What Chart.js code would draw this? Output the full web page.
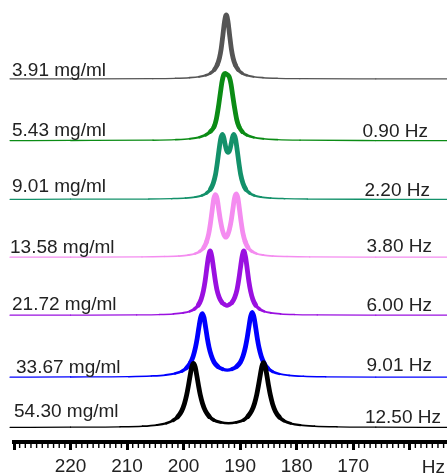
<!DOCTYPE html>
<html>
<head>
<meta charset="utf-8">
<script src="https://cdn.jsdelivr.net/npm/chart.js@4.4.1/dist/chart.umd.min.js"></script>
<style>
  html, body { margin: 0; padding: 0; background: #fff; }
  canvas { display: block; }
</style>
</head>
<body>
<canvas id="nmr" width="447" height="475"></canvas>
<script>
// traces listed top to bottom
var concentrations = ['3.91 mg/ml', '5.43 mg/ml', '9.01 mg/ml', '13.58 mg/ml', '21.72 mg/ml', '33.67 mg/ml', '54.30 mg/ml'];
var splittings = ['', '0.90 Hz', '2.20 Hz', '3.80 Hz', '6.00 Hz', '9.01 Hz', '12.50 Hz'];
var offsets = [56.67, 47.03, 37.86, 28.83, 19.77, 10.1, 2.27];   // baseline of each trace (a.u.)
var colors = ['#555555', '#0b8c15', '#13916a', '#f48cf0', '#9a10e0', '#0000ff', '#000000'];

var majorTicks = [160, 170, 180, 190, 200, 210, 220, 230];
var tickLabels = ['', '170', '180', '190', '200', '210', '220', ''];

// [Hz, intensity]
var c391 = [[230.7,0.02],[220,0.03],[205.45,0.05],[201.45,0.1],[198.95,0.2],[197.25,0.35],[196.05,0.58],[195.25,0.9],
    [194.55,1.45],[194.05,2.2],[193.65,3.3],[193.35,4.7],[193.05,6.8],[192.75,9.0],[192.45,10.0],[192.15,9.0],
    [191.85,6.8],[191.55,4.7],[191.25,3.3],[190.85,2.2],[190.35,1.45],[189.65,0.9],[188.85,0.58],[187.65,0.35],
    [185.95,0.2],[183.45,0.1],[179.45,0.05],[166,0.02],[153.4,0]];
var c543 = [[230.7,0.02],[220,0.04],[205.4,0.09],[201.4,0.17],[198.9,0.31],[197.2,0.55],[196.1,0.9],[195.3,1.4],
    [194.6,2.2],[194.2,3.4],[193.85,5.2],[193.5,7.4],[193.2,9.2],[192.9,10.3],[192.65,10.5],[192.4,10.4],
    [192.15,10.25],[191.9,9.9],[191.6,8.8],[191.3,7.0],[190.95,5.0],[190.6,3.3],[190.2,2.2],[189.6,1.4],
    [188.8,0.88],[187.6,0.52],[185.9,0.3],[183.4,0.17],[179.4,0.09],[166,0.03],[153.4,0.02]];
var c901 = [[230.7,0.02],[220,0.04],[206.15,0.07],[202.15,0.13],[199.65,0.22],[197.95,0.38],[196.75,0.62],[195.95,0.98],
    [195.25,1.6],[194.75,2.55],[194.35,3.9],[194.05,5.6],[193.75,7.6],[193.45,9.4],[193.15,10.15],[192.9,9.7],
    [192.65,8.6],[192.4,7.7],[192.125,7.35],[191.85,7.7],[191.6,8.6],[191.35,9.7],[191.1,10.15],[190.8,9.4],
    [190.5,7.6],[190.2,5.6],[189.9,3.9],[189.5,2.55],[189.0,1.6],[188.3,0.98],[187.5,0.62],[186.3,0.38],
    [184.6,0.22],[182.1,0.13],[178.1,0.07],[166,0.03],[153.4,0.02]];
var c1358 = [[230.7,0.02],[220,0.04],[207.35,0.06],[203.35,0.12],[200.85,0.2],[199.15,0.35],[197.95,0.58],[197.15,0.92],
    [196.45,1.5],[195.95,2.4],[195.55,3.7],[195.25,5.3],[194.95,7.3],[194.65,9.2],[194.35,9.8],[194.05,9.1],
    [193.75,7.3],[193.45,5.6],[193.15,4.3],[192.85,3.5],[192.525,3.15],[192.2,3.5],[191.9,4.3],[191.6,5.6],
    [191.3,7.4],[191.0,9.2],[190.7,9.9],[190.4,9.3],[190.1,7.4],[189.8,5.4],[189.5,3.75],[189.1,2.45],
    [188.6,1.52],[187.9,0.93],[187.1,0.58],[185.9,0.35],[184.2,0.2],[181.7,0.12],[177.7,0.06],[166,0.03],[153.4,0.02]];
var c2172 = [[230.7,0.02],[220,0.04],[208.3,0.07],[204.3,0.12],[201.8,0.22],[200.1,0.38],[198.9,0.62],[198.1,0.98],
    [197.4,1.6],[196.9,2.5],[196.5,3.8],[196.2,5.3],[195.9,7.3],[195.6,9.15],[195.3,10.05],[195.0,9.15],
    [194.7,7.35],[194.4,5.5],[194.1,4.0],[193.7,2.8],[193.2,2.0],[192.75,1.7],[192.325,1.5],[191.9,1.7],
    [191.45,2.0],[190.95,2.8],[190.55,4.0],[190.25,5.5],[189.95,7.35],[189.65,9.15],[189.35,10.05],[189.05,9.15],
    [188.75,7.3],[188.45,5.3],[188.15,3.8],[187.75,2.5],[187.25,1.6],[186.55,0.98],[185.75,0.62],[184.55,0.38],
    [182.85,0.22],[180.35,0.12],[176.35,0.07],[166,0.03],[153.4,0.02]];
var c3367 = [[230.7,0.02],[220,0.05],[209.7,0.1],[205.7,0.2],[203.2,0.35],[201.5,0.6],[200.3,0.95],[199.5,1.45],
    [198.8,2.25],[198.3,3.3],[197.9,4.65],[197.6,6.05],[197.3,7.75],[197.0,9.3],[196.7,9.95],[196.4,9.35],
    [196.1,7.8],[195.8,6.1],[195.5,4.7],[195.1,3.4],[194.6,2.35],[193.9,1.65],[193.1,1.27],[192.275,1.12],
    [191.45,1.27],[190.65,1.65],[189.95,2.35],[189.45,3.4],[189.05,4.75],[188.75,6.15],[188.45,7.85],[188.15,9.45],
    [187.85,10.15],[187.55,9.4],[187.25,7.8],[186.95,6.05],[186.65,4.6],[186.25,3.25],[185.75,2.2],[185.05,1.38],
    [184.25,0.88],[183.05,0.53],[181.35,0.3],[178.85,0.16],[174.85,0.08],[166,0.03],[153.4,0.02]];
var c5430 = [[230.7,0.02],[220,0.05],[211.25,0.1],[207.25,0.2],[204.75,0.38],[203.05,0.66],[201.85,1.1],[201.05,1.65],
    [200.35,2.55],[199.85,3.7],[199.45,5.1],[199.15,6.5],[198.85,8.05],[198.55,9.45],[198.25,10.0],[197.95,9.45],
    [197.65,8.05],[197.35,6.5],[197.05,5.1],[196.65,3.75],[196.15,2.6],[195.45,1.7],[194.65,1.15],[193.45,0.8],
    [192.05,0.65],[190.65,0.8],[189.4,1.15],[188.65,1.7],[187.95,2.6],[187.45,3.75],[187.05,5.15],[186.75,6.55],
    [186.45,8.1],[186.15,9.55],[185.85,10.1],[185.55,9.5],[185.25,8.05],[184.95,6.45],[184.65,5.05],[184.25,3.65],
    [183.75,2.5],[183.05,1.6],[182.25,1.05],[181.05,0.63],[179.35,0.36],[176.85,0.2],[172.85,0.1],[166,0.05],[153.4,0.02]];

var spectra = [c391, c543, c901, c1358, c2172, c3367, c5430];

// lines get heavy where the signal rises off the baseline
function segWidth(ctx) {
    var h = ctx.chart.data.datasets[ctx.datasetIndex].heights;
    var m = (h[ctx.p0DataIndex] + h[ctx.p1DataIndex]) / 2;
    return 1.2 + 3.6 * Math.min(1, m / 2);
}

// lower traces go first so they are painted on top
var datasets = [];
for (var i = spectra.length - 1; i >= 0; i--) {
    datasets.push({
        label: concentrations[i],
        data: spectra[i].map(function (p) { return { x: p[0], y: p[1] + offsets[i] }; }),
        heights: spectra[i].map(function (p) { return p[1]; }),
        borderColor: colors[i],
        borderWidth: 1.5,
        borderCapStyle: 'round',
        borderJoinStyle: 'round',
        cubicInterpolationMode: 'monotone',
        pointRadius: 0,
        fill: false,
        clip: false,
        segment: { borderWidth: segWidth }
    });
}

var FONT = '19px "Liberation Sans", Arial, sans-serif';

// label placement next to each baseline
var leftX = [12, 12, 12, 10, 12, 16, 14];
var leftGap = [3, 5, 7, 4.5, 5, 4, 10];
var rightX = [0, 428, 430, 432, 432, 432, 441];
var rightGap = [0, 3.5, 3, 5, 4, 6, 4];

var decorations = {
    id: 'decorations',
    afterDraw: function (chart) {
        var ctx = chart.ctx;
        var xs = chart.scales.x;
        var ys = chart.scales.y;
        ctx.save();

        // minor ticks every 1 Hz
        ctx.strokeStyle = '#000';
        ctx.lineWidth = 1.4;
        ctx.beginPath();
        for (var v = Math.ceil(xs.min); v <= xs.max; v++) {
            if (v % 10 === 0) continue;
            var px = xs.getPixelForValue(v);
            ctx.moveTo(px, xs.top + 2);
            ctx.lineTo(px, xs.top + 6);
        }
        ctx.stroke();

        ctx.font = FONT;
        ctx.fillStyle = '#222';
        ctx.textBaseline = 'alphabetic';
        for (var i = 0; i < concentrations.length; i++) {
            var base = ys.getPixelForValue(offsets[i]);
            ctx.textAlign = 'left';
            ctx.fillText(concentrations[i], leftX[i], base - leftGap[i]);
            if (splittings[i]) {
                ctx.textAlign = 'right';
                ctx.fillText(splittings[i], rightX[i], base - rightGap[i]);
            }
        }
        ctx.textAlign = 'right';
        ctx.fillText('Hz', 445, 473);
        ctx.restore();
    }
};

new Chart(document.getElementById('nmr'), {
    type: 'line',
    data: { datasets: datasets },
    options: {
        responsive: false,
        animation: false,
        devicePixelRatio: 1,
        layout: { padding: { left: 14, right: 0, top: 0, bottom: 0 } },
        plugins: { legend: { display: false }, tooltip: { enabled: false } },
        scales: {
            x: {
                type: 'linear',
                position: 'bottom',
                reverse: true,
                min: 153.4,
                max: 230,
                afterBuildTicks: function (scale) {
                    scale.ticks = majorTicks.map(function (v) { return { value: v }; });
                },
                afterFit: function (scale) { scale.height = 33; },
                border: { display: true, color: '#000', width: 4 },
                grid: { drawOnChartArea: false, drawTicks: true, tickLength: 8, tickWidth: 3, tickColor: '#000' },
                ticks: {
                    autoSkip: false,
                    maxRotation: 0,
                    padding: 5,
                    color: '#222',
                    font: { family: '"Liberation Sans", Arial, sans-serif', size: 19 },
                    callback: function (value, index) { return tickLabels[index]; }
                }
            },
            y: { display: false, min: 0, max: 69 }
        }
    },
    plugins: [decorations]
});
</script>
</body>
</html>
